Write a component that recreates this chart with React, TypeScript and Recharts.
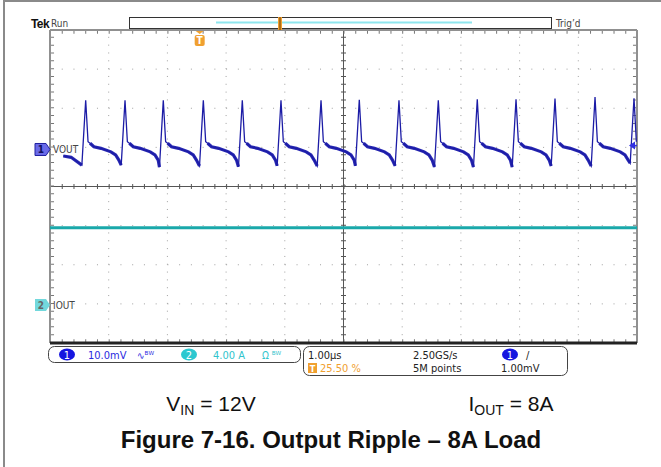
import React from "react"
import { ComposedChart, Line, XAxis, YAxis, ReferenceLine, ReferenceDot } from "recharts"

// horizontal: 1.00 µs/div, 10 divisions
const timeDivs = [0, 1, 2, 3, 4, 5, 6, 7, 8, 9, 10]
// vertical: 8 divisions
const vertDivs = [-4, -3, -2, -1, 0, 1, 2, 3, 4]

// CH1 VOUT, 10.0 mV/div (values in mV)
const peakTimes = [0.608, 1.278, 1.93, 2.612, 3.276, 3.935, 4.617, 5.269, 5.945, 6.615, 7.279, 7.939, 8.603, 9.285, 9.949]
const peakValues = [12.6, 12.6, 12.6, 12.6, 12.6, 12.6, 12.6, 12.7, 12.6, 12.6, 12.8, 12.8, 13.0, 13.4, 13.1]
const valleyValues = [-4.0, -4.0, -4.5, -4.2, -4.4, -4.2, -4.2, -4.2, -4.2, -4.5, -4.5, -4.5, -4.2, -4.2, -3.5]
const riseTime = 0.065
const decayOffsets = [0.04, 0.074, 0.14, 0.26, 0.43, 0.51, 0.565]
const decayValues = [2.0, 1.6, 0.7, 0.3, -0.6, -1.4, -2.7]
const leadTimes = [0.227, 0.36]
const leadValues = [-1.66, -2.0]

// CH2 IOUT, 4.00 A/div
const ioutTimes = [0, 10]
const ioutValues = [7.9, 7.9]

const trigLevel = 1.0 // mV
const trigPos = 2.55 // µs (25.50 %)

type Row = { t: number; v: number; band: number | null }
const voutRows: Row[] = []
leadTimes.forEach((t, k) => voutRows.push({ t, v: leadValues[k], band: leadValues[k] }))
peakTimes.forEach((tp, k) => {
  voutRows.push({ t: tp - riseTime, v: valleyValues[k], band: valleyValues[k] })
  voutRows.push({ t: tp, v: peakValues[k], band: null })
  decayOffsets.forEach((o, j) => {
    if (tp + o > 10) return
    voutRows.push({ t: tp + o, v: decayValues[j], band: j === 0 ? null : decayValues[j] })
  })
})
const ioutRows = ioutTimes.map((t, k) => ({ t, i: ioutValues[k] }))

const W = 661
const H = 467
const scopeFont = "'DejaVu Sans Condensed', 'DejaVu Sans', sans-serif"
const docFont = "'Liberation Sans', Arial, sans-serif"

const DOT_X = "1 10.74"
const DOT_Y = "1 6.825"

function Ch1Marker(p: any) {
  const { cx, cy } = p
  return (
    <g>
      <polygon
        points={`${cx - 15},${cy - 6} ${cx - 4},${cy - 6} ${cx},${cy} ${cx - 4},${cy + 6} ${cx - 15},${cy + 6}`}
        fill="#6a6ae8"
        stroke="#2020a0"
        strokeWidth={1}
      />
      <text x={cx - 9} y={cy + 4} textAnchor="middle" fontSize={10} fontWeight="bold" fill="#101060" fontFamily={scopeFont}>1</text>
      <text x={cx + 3} y={cy + 4} fontSize={10} fill="#444" fontFamily={scopeFont}>VOUT</text>
    </g>
  )
}

function Ch2Marker(p: any) {
  const { cx, cy } = p
  return (
    <g>
      <polygon
        points={`${cx - 15},${cy - 6} ${cx - 4},${cy - 6} ${cx},${cy} ${cx - 4},${cy + 6} ${cx - 15},${cy + 6}`}
        fill="#72d8dc"
      />
      <text x={cx - 9} y={cy + 4} textAnchor="middle" fontSize={10} fontWeight="bold" fill="#666" fontFamily={scopeFont}>2</text>
      <text x={cx + 3} y={cy + 4} fontSize={10} fill="#444" fontFamily={scopeFont}>IOUT</text>
    </g>
  )
}

function TrigLevelMarker(p: any) {
  const { cx, cy } = p
  return (
    <g>
      <polygon points={`${cx - 8},${cy} ${cx - 2},${cy - 4} ${cx - 2},${cy + 4}`} fill="#3030e0" />
      <line x1={cx - 4} y1={cy} x2={cx} y2={cy} stroke="#3030e0" strokeWidth={1.5} />
    </g>
  )
}

function TrigPosMarker(p: any) {
  const { cx, cy } = p
  return (
    <g>
      <polygon points={`${cx - 4},${cy + 1} ${cx + 4},${cy + 1} ${cx},${cy + 4}`} fill="#f0a030" />
      <rect x={cx - 5} y={cy + 5} width={10} height={11} rx={2} fill="#f0a030" />
      <text x={cx} y={cy + 14} textAnchor="middle" fontSize={10} fontWeight="bold" fill="#fff" fontFamily={scopeFont}>T</text>
    </g>
  )
}

export default function App() {
  const inner = vertDivs.filter((d) => d !== 0 && Math.abs(d) !== 4)
  const innerT = timeDivs.filter((t) => t !== 5 && t !== 0 && t !== 10)
  return (
    <div style={{ position: "absolute", left: 0, top: 0, width: W, height: H, background: "#fff" }}>
      <ComposedChart
        width={W}
        height={H}
        data={voutRows}
        margin={{ top: 30, right: 24, bottom: 124, left: 50 }}
      >
        <XAxis type="number" dataKey="t" domain={[0, 10]} allowDataOverflow hide />
        <YAxis yAxisId="div" type="number" domain={[-4, 4]} allowDataOverflow hide />
        <YAxis yAxisId="v" type="number" domain={[-49.46, 30.54]} allowDataOverflow hide />
        <YAxis yAxisId="i" type="number" domain={[-3.885, 28.115]} allowDataOverflow hide />

        {innerT.map((t) => (
          <ReferenceLine key={"gx" + t} x={t} yAxisId="div" stroke="#a0a0a0" strokeDasharray={DOT_Y} />
        ))}
        {inner.map((d) => (
          <ReferenceLine key={"gy" + d} y={d} yAxisId="div" stroke="#a0a0a0" strokeDasharray={DOT_X} />
        ))}
        <ReferenceLine x={5} yAxisId="div" stroke="#555" strokeWidth={1} />
        <ReferenceLine x={5} yAxisId="div" stroke="#555" strokeWidth={5} strokeDasharray={DOT_Y} />
        <ReferenceLine y={0} yAxisId="div" stroke="#555" strokeWidth={1} />
        <ReferenceLine y={0} yAxisId="div" stroke="#555" strokeWidth={5} strokeDasharray={DOT_X} />

        <ReferenceLine y={3.94} yAxisId="div" stroke="#777" strokeWidth={3} strokeDasharray={DOT_X} />
        <ReferenceLine y={-3.94} yAxisId="div" stroke="#777" strokeWidth={3} strokeDasharray={DOT_X} />
        <ReferenceLine x={0.043} yAxisId="div" stroke="#777" strokeWidth={3} strokeDasharray={DOT_Y} />
        <ReferenceLine x={9.957} yAxisId="div" stroke="#777" strokeWidth={3} strokeDasharray={DOT_Y} />
        <ReferenceLine y={4} yAxisId="div" stroke="#909090" strokeWidth={2} />
        <ReferenceLine x={0} yAxisId="div" stroke="#909090" strokeWidth={2} />
        <ReferenceLine x={10} yAxisId="div" stroke="#909090" strokeWidth={2} />
        <ReferenceLine y={-4} yAxisId="div" stroke="#222" strokeWidth={3} />

        <Line
          data={ioutRows}
          yAxisId="i"
          dataKey="i"
          type="linear"
          stroke="#1aa8aa"
          strokeWidth={3}
          dot={false}
          isAnimationActive={false}
        />
        <Line
          yAxisId="v"
          dataKey="band"
          type="linear"
          stroke="#2a2ab4"
          strokeWidth={3.2}
          dot={false}
          connectNulls={false}
          isAnimationActive={false}
        />
        <Line
          yAxisId="v"
          dataKey="v"
          type="linear"
          stroke="#1c1ca6"
          strokeWidth={1.3}
          dot={false}
          isAnimationActive={false}
        />

        <ReferenceDot x={0} y={0} yAxisId="v" shape={Ch1Marker} />
        <ReferenceDot x={0} y={0} yAxisId="i" shape={Ch2Marker} />
        <ReferenceDot x={10} y={trigLevel} yAxisId="v" shape={TrigLevelMarker} />
        <ReferenceDot x={trigPos} y={4} yAxisId="div" shape={TrigPosMarker} />
      </ComposedChart>

      <svg width={W} height={H} style={{ position: "absolute", left: 0, top: 0, pointerEvents: "none" }}>
        <line x1={4} y1={0} x2={4} y2={H} stroke="#8a8a8a" strokeWidth={2} />
        <line x1={4} y1={1} x2={W} y2={1} stroke="#8a8a8a" strokeWidth={2} />

        <text x={31} y={28} fontFamily={docFont} fontWeight="bold" fontSize={12} fill="#111" letterSpacing={-0.6}>Tek</text>
        <text x={51} y={27} fontFamily={scopeFont} fontSize={10} fill="#444">Run</text>
        <rect x={129.5} y={17.5} width={422} height={11} fill="#fff" stroke="#333" />
        <line x1={216} y1={22.5} x2={472} y2={22.5} stroke="#8ee6ee" strokeWidth={2} />
        <rect x={278} y={17} width={4} height={13} fill="#f0a030" />
        <line x1={280} y1={17} x2={280} y2={30} stroke="#6a3a00" strokeWidth={1} />
        <text x={556} y={27} fontFamily={scopeFont} fontSize={10} fill="#444">Trig’d</text>

        <rect x={48.5} y={346.5} width={252} height={16} rx={6} fill="#fff" stroke="#444" />
        <ellipse cx={67} cy={354.5} rx={8} ry={6} fill="#1616e0" />
        <text x={67} y={358.5} textAnchor="middle" fontFamily={scopeFont} fontSize={11} fill="#fff">1</text>
        <text x={88} y={358.5} fontFamily={scopeFont} fontSize={11} fill="#2a2ae0">10.0mV</text>
        <text x={137} y={358.5} fontFamily={scopeFont} fontSize={10} fill="#2a2ae0">∿ᴮᵂ</text>
        <ellipse cx={189} cy={354.5} rx={8} ry={6} fill="#2cc8d0" />
        <text x={189} y={358.5} textAnchor="middle" fontFamily={scopeFont} fontSize={11} fill="#fff">2</text>
        <text x={213} y={358.5} fontFamily={scopeFont} fontSize={11} fill="#30c4cc">4.00 A</text>
        <text x={262} y={358.5} fontFamily={scopeFont} fontSize={10} fill="#30c4cc">Ω ᴮᵂ</text>

        <rect x={303.5} y={346.5} width={264} height={29} rx={6} fill="#fff" stroke="#444" />
        <text x={308} y={358.5} fontFamily={scopeFont} fontSize={11} fill="#222">1.00µs</text>
        <text x={413} y={358.5} fontFamily={scopeFont} fontSize={11} fill="#222">2.50GS/s</text>
        <ellipse cx={510} cy={354.5} rx={8} ry={6} fill="#1616e0" />
        <text x={510} y={358.5} textAnchor="middle" fontFamily={scopeFont} fontSize={11} fill="#fff">1</text>
        <text x={526} y={358.5} fontFamily={scopeFont} fontSize={11} fill="#222">∕</text>
        <rect x={308} y={363} width={9} height={10} fill="#f0a030" />
        <text x={312.5} y={371.5} textAnchor="middle" fontFamily={scopeFont} fontSize={9} fontWeight="bold" fill="#fff">T</text>
        <text x={320} y={372} fontFamily={scopeFont} fontSize={11} fill="#f0a030">25.50 %</text>
        <text x={413} y={372} fontFamily={scopeFont} fontSize={11} fill="#222">5M points</text>
        <text x={501} y={372} fontFamily={scopeFont} fontSize={11} fill="#222">1.00mV</text>

        <text x={211} y={411} textAnchor="middle" fontFamily={docFont} fontSize={21} fill="#111">
          V<tspan fontSize={14} dy={4}>IN</tspan><tspan dy={-4}> = 12V</tspan>
        </text>
        <text x={511} y={411} textAnchor="middle" fontFamily={docFont} fontSize={21} fill="#111">
          I<tspan fontSize={14} dy={4}>OUT</tspan><tspan dy={-4}> = 8A</tspan>
        </text>
        <text x={331} y={448} textAnchor="middle" fontFamily={docFont} fontWeight="bold" fontSize={24} fill="#111">
          Figure 7-16. Output Ripple – 8A Load
        </text>
      </svg>
    </div>
  )
}
